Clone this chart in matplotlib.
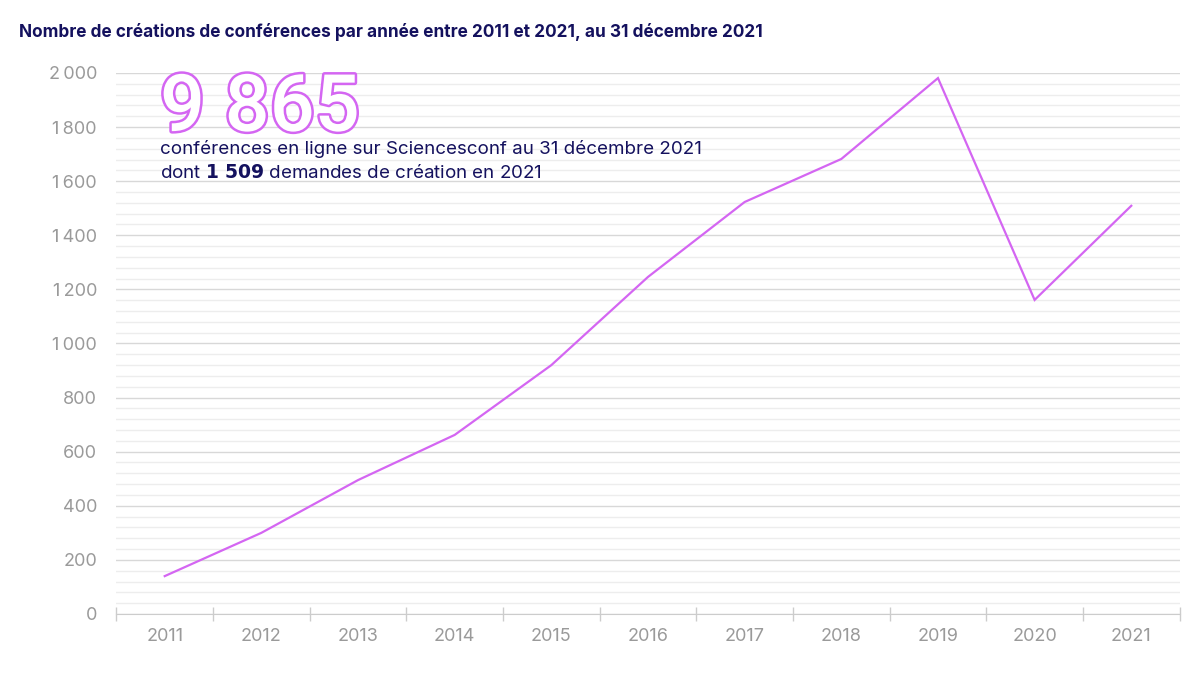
import numpy as np
import matplotlib.pyplot as plt
import matplotlib.patheffects as pe
from matplotlib.ticker import MultipleLocator, FuncFormatter

years = ['2011', '2012', '2013', '2014', '2015', '2016', '2017', '2018', '2019', '2020', '2021']
creations = [140, 300, 495, 662, 920, 1246, 1523, 1682, 1981, 1161, 1509]

NAVY = '#14115e'
PURPLE = '#d466f2'
GRAY = '#9a9a9a'

plt.rcParams['font.family'] = ['Inter', 'DejaVu Sans']

fig = plt.figure(figsize=(12, 6.75), dpi=100)
ax = fig.add_axes([0.097, 0.0904, 0.886, 0.8015])

x = np.arange(len(years))
ax.plot(x, creations, color=PURPLE, linewidth=1.6, solid_joinstyle='miter')

ax.set_xlim(-0.5, len(years) - 0.5)
ax.set_ylim(0, 2000)

# grid: major every 200, minor every 40
ax.yaxis.set_major_locator(MultipleLocator(200))
ax.yaxis.set_minor_locator(MultipleLocator(40))
ax.grid(axis='y', which='major', color='#d8d8d8', linewidth=1.0)
ax.grid(axis='y', which='minor', color='#ededed', linewidth=1.0)
ax.set_axisbelow(True)

ax.yaxis.set_major_formatter(FuncFormatter(lambda v, p: f'{int(v):,}'.replace(',', '\u2009')))
ax.tick_params(axis='y', which='both', length=0, labelsize=13, labelcolor=GRAY, pad=14)

# x ticks at band edges, labels at centres
ax.set_xticks(np.arange(-0.5, len(years) + 0.5, 1.0))
ax.set_xticklabels([])
ax.set_xticks(x, minor=True)
ax.set_xticklabels(years, minor=True)
ax.tick_params(axis='x', which='major', direction='inout', length=10, color='#cccccc', width=1)
ax.tick_params(axis='x', which='minor', length=0, labelsize=13, labelcolor=GRAY, pad=10)

for s in ['top', 'right', 'left']:
    ax.spines[s].set_visible(False)
ax.spines['bottom'].set_color('#cccccc')

fig.text(0.016, 0.953, 'Nombre de créations de conférences par année entre 2011 et 2021, au 31 décembre 2021',
         fontsize=12.4, fontweight='bold', color=NAVY, va='center')

# big outlined number
ax.text(0.041, 0.893, '9 865', transform=ax.transAxes, fontsize=57, fontweight='medium',
        fontstyle='normal', family=['Roboto', 'DejaVu Sans'], color='white', va='baseline', ha='left',
        path_effects=[pe.Stroke(linewidth=3.6, foreground=PURPLE), pe.Normal()])

ax.text(0.041, 0.86, 'conférences en ligne sur Sciencesconf au 31 décembre 2021', transform=ax.transAxes,
        fontsize=13.5, color=NAVY, va='center', ha='left')
ax.text(0.041, 0.815, r'dont $\bf{1\ 509}$ demandes de création en 2021', transform=ax.transAxes,
        fontsize=13.5, color=NAVY, va='center', ha='left')

fig.savefig('out.png', dpi=100, facecolor='white')
